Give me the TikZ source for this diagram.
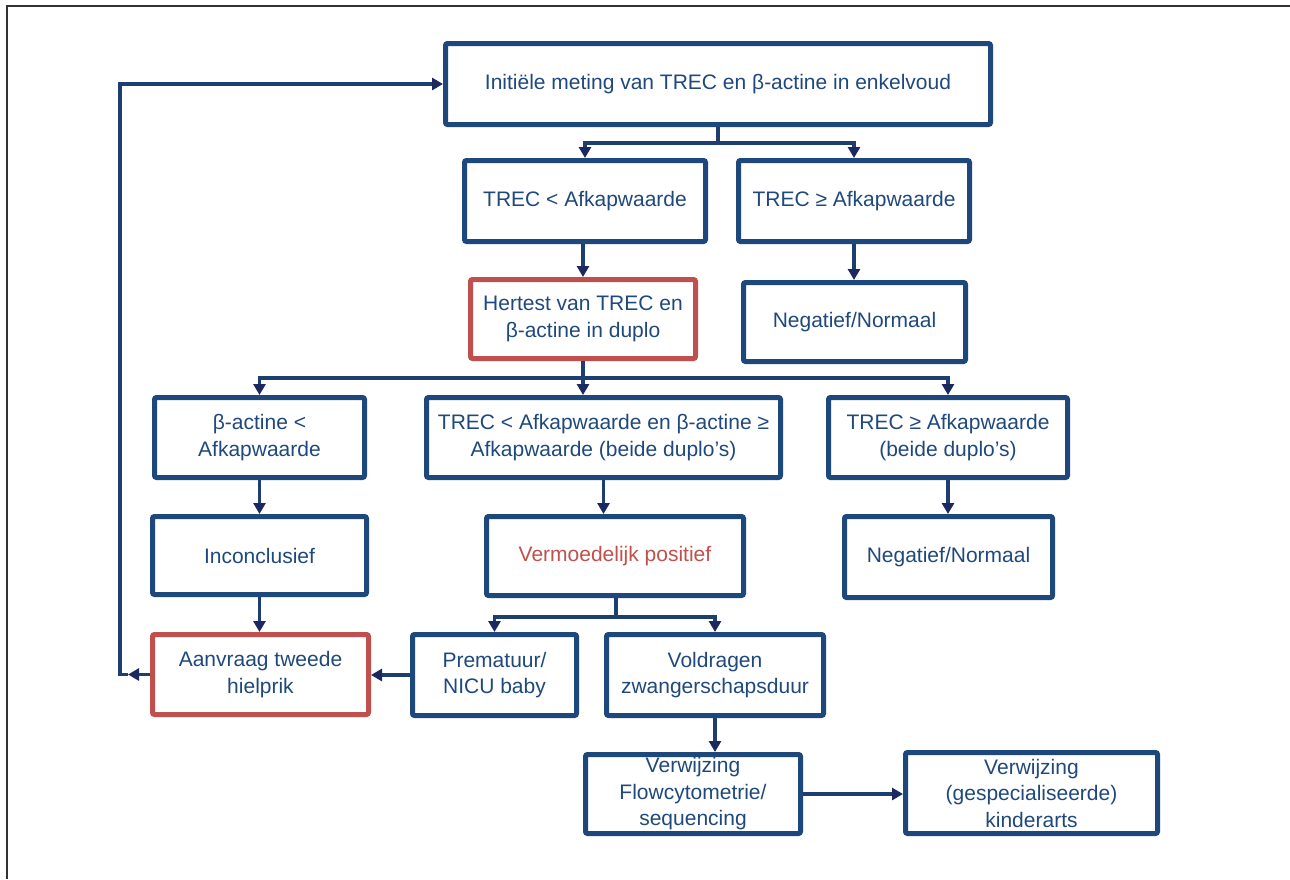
\documentclass[tikz,border=0pt]{standalone}
\usepackage{fontspec}
\setmainfont{Liberation Sans}
\usetikzlibrary{arrows.meta,shadows}
\definecolor{boxblue}{RGB}{30,72,124}
\definecolor{lineblue}{RGB}{30,62,112}
\definecolor{tipblue}{RGB}{28,40,96}
\definecolor{txtblue}{RGB}{31,73,125}
\definecolor{redc}{RGB}{192,80,77}
\definecolor{framegray}{RGB}{50,50,50}
\tikzset{
  box/.style={draw=boxblue, line width=5pt, fill=white, rounded corners=2pt,
    align=center, text=txtblue, inner sep=2pt,
    font=\fontsize{21}{26.5}\selectfont,
    drop shadow={opacity=0.22, shadow xshift=1.5pt, shadow yshift=1.5pt}},
  redbox/.style={box, draw=redc},
  conn/.style={draw=lineblue, line width=3.5pt},
  arr/.style={conn, -{Triangle[length=11pt,width=12pt,color=tipblue]}},
}
\begin{document}
\begin{tikzpicture}[x=1pt,y=-1pt]
\useasboundingbox (0,0) rectangle (1290,879);
\fill[white] (0,0) rectangle (1290,879);
% frame (cropped)
\draw[framegray, line width=2pt] (6.5,879) -- (6.5,5.5) -- (1290,5.5);

% nodes
\node[box, minimum width=545, minimum height=81] (init) at (718,84) {Initiële meting van TREC en β-actine in enkelvoud};
\node[box, minimum width=241, minimum height=81] (tlt) at (585,201) {TREC < Afkapwaarde};
\node[box, minimum width=231, minimum height=81] (tge) at (854,201) {TREC ≥ Afkapwaarde};
\node[redbox, minimum width=225, minimum height=79] (hert) at (583,319) {Hertest van TREC en\\β-actine in duplo};
\node[box, minimum width=222, minimum height=79] (neg1) at (854.5,322) {Negatief/Normaal};
\node[box, minimum width=210, minimum height=80] (bact) at (259.5,437.5) {β-actine <\\Afkapwaarde};
\node[box, minimum width=354, minimum height=80] (mid) at (603.5,437.5) {TREC < Afkapwaarde en β-actine ≥\\Afkapwaarde (beide duplo’s)};
\node[box, minimum width=239, minimum height=80] (rge) at (948,437.5) {TREC ≥ Afkapwaarde\\(beide duplo’s)};
\node[box, minimum width=214, minimum height=78] (inc) at (259.5,555.5) {Inconclusief};
\node[box, minimum width=257, minimum height=79, text=redc] (verm) at (615,556) {Vermoedelijk positief};
\node[box, minimum width=208, minimum height=81] (neg2) at (948.5,557) {Negatief/Normaal};
\node[redbox, minimum width=216, minimum height=80] (aan) at (260.5,674.5) {Aanvraag tweede\\hielprik};
\node[box, minimum width=164, minimum height=81] (prem) at (494.5,675) {Prematuur/\\NICU baby};
\node[box, minimum width=217, minimum height=81] (vold) at (715,675) {Voldragen\\zwangerschapsduur};
\node[box, minimum width=215, minimum height=79] (flow) at (693,794) {Verwijzing\\Flowcytometrie/\\sequencing};
\node[box, minimum width=252, minimum height=81] (kind) at (1031.5,793) {Verwijzing\\(gespecialiseerde)\\kinderarts};

% junction coordinates
\coordinate (j1) at (718,143);
\coordinate (j2) at (583,378);
\coordinate (j3) at (616,617);
\coordinate (cL) at (128,674.5);
\coordinate (cC) at (120,674.5);
\coordinate (cT) at (120,84);

% connectors
\draw[conn] (init.south) -- (j1);
\draw[arr] (j1) -| (tlt.north);
\draw[arr] (j1) -| (tge.north);
\draw[arr] (tlt.south -| hert.north) -- (hert.north);
\draw[arr] (tge.south) -- (tge.south |- neg1.north);
\draw[conn] (hert.south) -- (j2);
\draw[arr] (j2) -| (bact.north);
\draw[arr] (j2) -- (j2 |- mid.north);
\draw[arr] (j2) -| (rge.north);
\draw[arr] (bact.south) -- (inc.north);
\draw[arr] (mid.south) -- (mid.south |- verm.north);
\draw[arr] (rge.south) -- (rge.south |- neg2.north);
\draw[arr] (inc.south) -- (inc.south |- aan.north);
\draw[conn] (verm.south -| j3) -- (j3);
\draw[arr] (j3) -| (prem.north);
\draw[arr] (j3) -| (vold.north);
\draw[arr] (prem.west) -- (prem.west -| aan.east);
\draw[arr] (vold.south) -- (vold.south |- flow.north);
\draw[arr] (flow.east) -- (flow.east -| kind.west);
\draw[arr] (aan.west) -- (cL);
\draw[arr] (cL) -- (cC) -- (cT) -- (init.west);
\end{tikzpicture}
\end{document}
